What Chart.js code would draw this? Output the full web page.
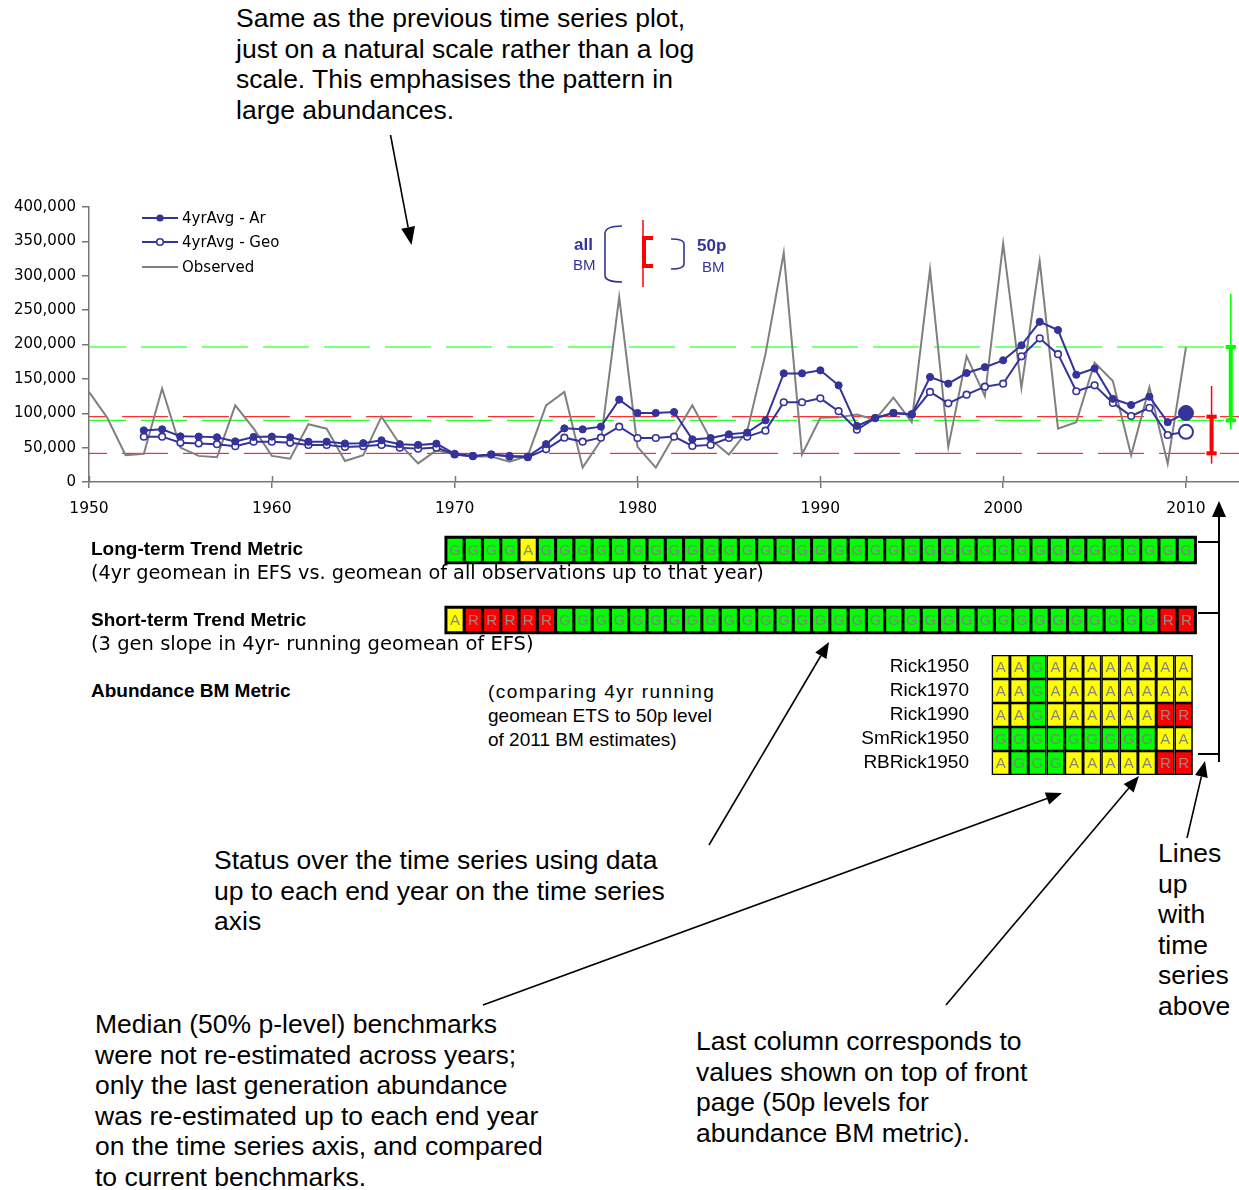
<!DOCTYPE html>
<html>
<head>
<meta charset="utf-8">
<script src="https://cdn.jsdelivr.net/npm/chart.js@4.4.1/dist/chart.umd.min.js"></script>
<style>
  html, body { margin: 0; padding: 0; background: #fff; }
  body { width: 1239px; height: 1190px; position: relative; overflow: hidden;
         font-family: 'Liberation Sans', Arial, sans-serif; color: #000; }
  canvas { position: absolute; }
  .t { position: absolute; white-space: nowrap; }
  .note { font-size: 26.5px; line-height: 30.6px; }
  .leg { font-family: 'DejaVu Sans', Verdana, sans-serif; font-size: 15px; line-height: 18px; }
  .mtitle { font-weight: bold; font-size: 19px; line-height: 24px; }
  .msub { font-family: 'DejaVu Sans', Verdana, sans-serif; font-size: 19.3px; line-height: 24px; }
  .arial19 { font-size: 19px; line-height: 24px; }
  .key { color: #333399; }
  svg { position: absolute; left: 0; top: 0; }
</style>
</head>
<body>

<canvas id="main" width="1239" height="340" style="left:0;top:190px"></canvas>
<canvas id="trend" width="1239" height="140" style="left:0;top:515px"></canvas>
<canvas id="bm" width="399" height="144" style="left:840px;top:643px"></canvas>

<div class="t note" style="left:236px;top:3px">Same as the previous time series plot,<br>just on a natural scale rather than a log<br>scale. This emphasises the pattern in<br>large abundances.</div>

<div class="t leg" style="left:182px;top:209px">4yrAvg - Ar</div>
<div class="t leg" style="left:182px;top:233px">4yrAvg - Geo</div>
<div class="t leg" style="left:182px;top:258px">Observed</div>

<div class="t key" style="left:574px;top:235px;font-weight:bold;font-size:17px;line-height:20px">all</div>
<div class="t key" style="left:573px;top:255px;font-size:15px;line-height:20px">BM</div>
<div class="t key" style="left:697px;top:236px;font-weight:bold;font-size:17px;line-height:20px">50p</div>
<div class="t key" style="left:702px;top:257px;font-size:15px;line-height:20px">BM</div>

<div class="t mtitle" style="left:91px;top:537px">Long-term Trend Metric</div>
<div class="t msub" style="left:91px;top:561px">(4yr geomean in EFS vs. geomean of all observations up to that year)</div>
<div class="t mtitle" style="left:91px;top:608px">Short-term Trend Metric</div>
<div class="t msub" style="left:91px;top:632px;font-size:19.5px">(3 gen slope in 4yr- running geomean of EFS)</div>
<div class="t mtitle" style="left:91px;top:679px">Abundance BM Metric</div>
<div class="t arial19" style="left:488px;top:680px"><span style="letter-spacing:1.45px">(comparing 4yr running</span><br>geomean ETS to 50p level<br>of 2011 BM estimates)</div>

<div class="t note" style="left:214px;top:845px">Status over the time series using data<br>up to each end year on the time series<br>axis</div>
<div class="t note" style="left:95px;top:1009px">Median (50% p-level) benchmarks<br>were not re-estimated across years;<br>only the last generation abundance<br>was re-estimated up to each end year<br>on the time series axis, and compared<br>to current benchmarks.</div>
<div class="t note" style="left:696px;top:1026px">Last column corresponds to<br>values shown on top of front<br>page (50p levels for<br>abundance BM metric).</div>
<div class="t note" style="left:1158px;top:838px">Lines<br>up<br>with<br>time<br>series<br>above</div>

<svg id="ov" width="1239" height="1190"></svg>

<script>
// ---- Time series ----
const obsYears = [1950,1951,1952,1953,1954,1955,1956,1957,1958,1959,
                  1960,1961,1962,1963,1964,1965,1966,1967,1968,1969,
                  1970,1971,1972,1973,1974,1975,1976,1977,1978,1979,
                  1980,1981,1982,1983,1984,1985,1986,1987,1988,1989,
                  1990,1991,1992,1993,1994,1995,1996,1997,1998,1999,
                  2000,2001,2002,2003,2004,2005,2006,2007,2008,2009,
                  2010];
const observed = [131000,93500,39000,41000,136000,50000,38000,36000,111500,78000,
                  38000,34000,84000,77500,30500,39000,95000,55000,27000,46000,
                  40000,37000,37000,29600,38000,111500,131000,21000,60600,269000,
                  51000,21000,67000,111500,62000,40000,74000,186000,333500,40000,
                  93500,94000,98000,90700,122700,87000,309000,51000,183000,125000,
                  346700,137000,321000,77600,87000,173600,147000,39000,138000,26700,
                  196000];

const avgYears = [1953,1954,1955,1956,1957,1958,1959,
                  1960,1961,1962,1963,1964,1965,1966,1967,1968,1969,
                  1970,1971,1972,1973,1974,1975,1976,1977,1978,1979,
                  1980,1981,1982,1983,1984,1985,1986,1987,1988,1989,
                  1990,1991,1992,1993,1994,1995,1996,1997,1998,1999,
                  2000,2001,2002,2003,2004,2005,2006,2007,2008,2009,
                  2010];
const avgAr = [75000,76600,66400,66000,65000,59000,65500,
               66000,65000,58600,58600,56000,56500,60600,55000,54000,55800,
               41000,38000,40000,38000,37000,55000,78000,76600,80500,119800,
               100400,100400,101800,62000,64000,69300,71800,89700,158000,158000,
               162400,140600,81500,93000,100400,98400,152700,143000,158500,167000,
               177000,198800,233000,221000,156000,165000,121000,112000,124000,87000,
               100400];
const avgGeo = [66000,66000,57000,56000,55000,52000,58600,
                58600,57000,54000,54000,51000,52000,54000,50000,48500,50000,
                40000,37600,40000,37000,36000,47500,64500,58600,64500,80500,
                64000,64000,66000,52400,54000,64000,66000,74700,116000,116000,
                121700,103000,76000,93000,100400,98400,131000,114400,127000,138700,
                143000,182800,209000,186000,132000,140600,115000,96000,108000,68400,
                73000];

// ---- Benchmarks (lower / upper) ----
const allBM = [41700, 95000];       // red
const allBMRange = [26700, 139600];
const p50BM = [89700, 196400];      // green
const p50BMRange = [76600, 274000];
const allBMYear = 2011.4;
const p50BMYear = 2012.45;

// ---- Axis ticks ----
const xTickYears = [1950, 1960, 1970, 1980, 1990, 2000, 2010];
const yTickStep = 50000;
const yMax = 400000;

// ---- Status metrics, one letter per end year ----
const trendYears = [1970,1971,1972,1973,1974,1975,1976,1977,1978,1979,
                    1980,1981,1982,1983,1984,1985,1986,1987,1988,1989,
                    1990,1991,1992,1993,1994,1995,1996,1997,1998,1999,
                    2000,2001,2002,2003,2004,2005,2006,2007,2008,2009,
                    2010];
const longTermStatus  = 'GGGGAGGGGG GGGGGGGGGG GGGGGGGGGG GGGGGGGGGG G'.replace(/ /g, '').split('');
const shortTermStatus = 'ARRRRRGGGG GGGGGGGGGG GGGGGGGGGG GGGGGGGGGR R'.replace(/ /g, '').split('');

const bmYears = [2000,2001,2002,2003,2004,2005,2006,2007,2008,2009,2010];
const bmModels = ['Rick1950', 'Rick1970', 'Rick1990', 'SmRick1950', 'RBRick1950'];
const bmStatus = {
  Rick1950:   'AAGAAAAAAAA'.split(''),
  Rick1970:   'AAGAAAAAAAA'.split(''),
  Rick1990:   'AAGAAAAAARR'.split(''),
  SmRick1950: 'GGGGGGGGGAA'.split(''),
  RBRick1950: 'AGGGAAAAARR'.split('')
};

// ---- Styling ----
const NAVY = '#333399';
const GREY = '#808080';
const AXIS = '#777777';
const RED = '#ff0000';
const GREEN = '#00ff00';
const STATUS_COLOR = { G: '#00ff00', A: '#ffff00', R: '#ff0000' };

const XMIN = 1950, XMAX = 2012.9;
const AREA_LEFT = 89, PAGE_RIGHT = 1239;
const PX_PER_YEAR = (PAGE_RIGHT - AREA_LEFT) / (XMAX - XMIN);

const pts = (xs, ys) => xs.map((x, i) => ({ x, y: ys[i] }));
const hLine = (y, x0, x1) => [{ x: x0, y }, { x: x1, y }];
const vLine = (x, y0, y1) => [{ x, y: y0 }, { x, y: y1 }];

function seg(data, color, width, order, dash) {
  return { data, borderColor: color, borderWidth: width, pointRadius: 0,
           borderDash: dash || [], order, fill: false, tension: 0, borderCapStyle: 'butt' };
}

const CAP = 0.28;
function errorBar(x, box, range, color, order) {
  return [
    seg(vLine(x, range[0], range[1]), color, 1.5, order),
    seg(vLine(x, box[0], box[1]), color, 4, order),
    seg(hLine(box[0], x - CAP, x + CAP), color, 4, order),
    seg(hLine(box[1], x - CAP, x + CAP), color, 4, order)
  ];
}

// small tick parts above the x axis line
const innerTicks = {
  id: 'innerTicks',
  afterDraw(chart) {
    const xs = chart.scales.x, ctx = chart.ctx, b = chart.chartArea.bottom;
    ctx.save();
    ctx.strokeStyle = AXIS; ctx.lineWidth = 1.5;
    xs.ticks.forEach(t => {
      const p = Math.round(xs.getPixelForValue(t.value)) + 0.5;
      ctx.beginPath(); ctx.moveTo(p, b - 6); ctx.lineTo(p, b); ctx.stroke();
    });
    ctx.restore();
  }
};

new Chart(document.getElementById('main'), {
  type: 'line',
  data: {
    datasets: [
      { label: '4yrAvg - Ar', data: pts(avgYears, avgAr), borderColor: NAVY, borderWidth: 2,
        pointRadius: avgYears.map(y => y === 2010 ? 7.5 : 3.6),
        pointBackgroundColor: NAVY, pointBorderColor: NAVY, pointBorderWidth: 1, order: 2, tension: 0 },
      { label: '4yrAvg - Geo', data: pts(avgYears, avgGeo), borderColor: NAVY, borderWidth: 2,
        pointRadius: avgYears.map(y => y === 2010 ? 7 : 3.3),
        pointBackgroundColor: '#ffffff', pointBorderColor: NAVY,
        pointBorderWidth: avgYears.map(y => y === 2010 ? 2 : 1.6), order: 3, tension: 0 },
      seg(pts(obsYears, observed), GREY, 2, 4),
      Object.assign(seg(hLine(allBM[0], XMIN, XMAX), RED, 1, 6, [46, 15]), { borderDashOffset: 28 }),
      Object.assign(seg(hLine(allBM[1], XMIN, XMAX), RED, 1, 6, [46, 15]), { borderDashOffset: 28 }),
      Object.assign(seg(hLine(p50BM[0], XMIN, XMAX), GREEN, 1, 5, [46, 15]), { borderDashOffset: 9 }),
      Object.assign(seg(hLine(p50BM[1], XMIN, XMAX), GREEN, 1, 5, [46, 15]), { borderDashOffset: 9 }),
      ...errorBar(allBMYear, allBM, allBMRange, RED, 1),
      ...errorBar(p50BMYear, p50BM, p50BMRange, GREEN, 1)
    ]
  },
  options: {
    responsive: false, animation: false, devicePixelRatio: 1,
    layout: { autoPadding: false, padding: { top: 17, right: 0, left: 0, bottom: 0 } },
    plugins: { legend: { display: false }, tooltip: { enabled: false } },
    scales: {
      x: {
        type: 'linear', min: XMIN, max: XMAX,
        afterBuildTicks: s => { s.ticks = xTickYears.map(v => ({ value: v })); },
        afterFit: s => { s.height = 48; },
        grid: { drawOnChartArea: false, tickLength: 6, color: AXIS, lineWidth: 1.5 },
        border: { color: AXIS, width: 1.5 },
        ticks: { font: { family: 'DejaVu Sans', size: 15.5 }, color: '#000', padding: 12,
                 maxRotation: 0, autoSkip: false, callback: v => String(v) }
      },
      y: {
        min: 0, max: yMax,
        afterFit: s => { s.width = AREA_LEFT; },
        grid: { drawOnChartArea: false, tickLength: 7, color: AXIS, lineWidth: 1.5 },
        border: { color: AXIS, width: 1.5 },
        ticks: { stepSize: yTickStep, font: { family: 'DejaVu Sans', size: 15 }, color: '#000',
                 padding: 6, callback: v => v.toLocaleString('en-US') }
      }
    }
  },
  plugins: [innerTicks]
});

// ---- Status grids ----
const statusLetters = {
  id: 'statusLetters',
  afterDatasetsDraw(chart) {
    const ctx = chart.ctx;
    ctx.save();
    ctx.font = '15px "Liberation Sans", Arial, sans-serif';
    ctx.textAlign = 'center'; ctx.textBaseline = 'middle';
    chart.data.datasets.forEach((ds, di) => {
      if (!ds.letters) return;
      chart.getDatasetMeta(di).data.forEach((el, i) => {
        const l = ds.letters[i];
        ctx.fillStyle = l === 'R' ? 'rgba(150,150,150,0.9)' : 'rgba(128,128,128,0.95)';
        ctx.fillText(l, (el.x + el.base) / 2, el.y + 1);
      });
    });
    ctx.restore();
  }
};

const TREND_CELL = [-0.46, 0.5];
function cellRow(years, row, cell) {
  return years.map(yr => ({ x: [yr + cell[0], yr + cell[1]], y: row }));
}

const trendRows = [['Long-term', longTermStatus], ['Short-term', shortTermStatus]];
const trendCells = trendRows.flatMap(([row]) => cellRow(trendYears, row, TREND_CELL));
const trendLetters = trendRows.flatMap(([, st]) => st);
const first = trendYears[0], last = trendYears[trendYears.length - 1];

new Chart(document.getElementById('trend'), {
  type: 'bar',
  data: {
    labels: trendRows.map(r => r[0]),
    datasets: [
      { data: trendCells, letters: trendLetters,
        backgroundColor: trendLetters.map(l => STATUS_COLOR[l]),
        borderColor: '#000', borderWidth: 1.5, borderSkipped: false,
        barThickness: 25, grouped: false, order: 0 },
      { data: trendRows.map(r => ({ x: [first + TREND_CELL[0] - 0.08, last + TREND_CELL[1] + 0.08], y: r[0] })),
        backgroundColor: '#000', borderWidth: 0, barThickness: 28, grouped: false, order: 1 }
    ]
  },
  options: {
    indexAxis: 'y', responsive: false, animation: false, devicePixelRatio: 1,
    layout: { autoPadding: false, padding: { left: AREA_LEFT, right: 0, top: 0, bottom: 0 } },
    plugins: { legend: { display: false }, tooltip: { enabled: false } },
    scales: {
      x: { type: 'linear', min: XMIN, max: XMAX, display: false },
      y: { type: 'category', display: false }
    }
  },
  plugins: [statusLetters]
});

// Abundance BM grid: its plot area starts at page x 991 and keeps the same years-to-pixels scale
const BM_LEFT = 840, BM_AREA_LEFT = 991;
const BM_XMIN = XMIN + (BM_AREA_LEFT - AREA_LEFT) / PX_PER_YEAR;
const BM_CELL = [-0.62, 0.36];
const bmCells = bmModels.flatMap(m => cellRow(bmYears, m, BM_CELL));
const bmLetters = bmModels.flatMap(m => bmStatus[m]);

new Chart(document.getElementById('bm'), {
  type: 'bar',
  data: {
    labels: bmModels,
    datasets: [
      { data: bmCells, letters: bmLetters,
        backgroundColor: bmLetters.map(l => STATUS_COLOR[l]),
        borderColor: '#000', borderWidth: 1.6, borderSkipped: false,
        categoryPercentage: 1, barPercentage: 1, grouped: false }
    ]
  },
  options: {
    indexAxis: 'y', responsive: false, animation: false, devicePixelRatio: 1,
    layout: { autoPadding: false, padding: { top: 12, bottom: 12, left: 0, right: 0 } },
    plugins: { legend: { display: false }, tooltip: { enabled: false } },
    scales: {
      x: { type: 'linear', min: BM_XMIN, max: XMAX, display: false },
      y: { type: 'category', afterFit: s => { s.width = BM_AREA_LEFT - BM_LEFT; },
           grid: { display: true, drawOnChartArea: false, drawTicks: true, tickLength: 22, color: 'rgba(0,0,0,0)' },
           border: { display: false },
           ticks: { padding: 0, autoSkip: false, color: '#000',
                    font: { family: '"Liberation Sans", Arial', size: 19 } } }
    }
  },
  plugins: [statusLetters]
});

// ---- Legend samples, key brackets, arrows and the alignment bracket ----
const svg = document.getElementById('ov');
const NS = 'http://www.w3.org/2000/svg';
function el(tag, attrs) {
  const e = document.createElementNS(NS, tag);
  for (const k in attrs) e.setAttribute(k, attrs[k]);
  svg.appendChild(e);
  return e;
}
function arrow(x1, y1, x2, y2, len = 16, hw = 6.5) {
  const a = Math.atan2(y2 - y1, x2 - x1);
  const bx = x2 - len * Math.cos(a), by = y2 - len * Math.sin(a);
  el('line', { x1, y1, x2: bx, y2: by, stroke: '#000', 'stroke-width': 1.6 });
  const px = -Math.sin(a) * hw, py = Math.cos(a) * hw;
  el('polygon', { points: `${x2},${y2} ${bx + px},${by + py} ${bx - px},${by - py}`, fill: '#000' });
}

// legend
el('line', { x1: 142, y1: 218, x2: 178, y2: 218, stroke: NAVY, 'stroke-width': 2 });
el('circle', { cx: 160, cy: 218, r: 3.6, fill: NAVY });
el('line', { x1: 142, y1: 242, x2: 178, y2: 242, stroke: NAVY, 'stroke-width': 2 });
el('circle', { cx: 160, cy: 242, r: 3.3, fill: '#fff', stroke: NAVY, 'stroke-width': 1.6 });
el('line', { x1: 142, y1: 267, x2: 178, y2: 267, stroke: GREY, 'stroke-width': 2 });

// benchmark key
el('path', { d: 'M622,226 Q606,226 605,233 L605,276 Q606,282 622,282', fill: 'none', stroke: NAVY, 'stroke-width': 1.6 });
el('path', { d: 'M671,239 Q684,239 684,244 L684,264 Q684,269 671,269', fill: 'none', stroke: NAVY, 'stroke-width': 1.6 });
el('line', { x1: 643, y1: 220, x2: 643, y2: 287, stroke: RED, 'stroke-width': 1.5 });
el('path', { d: 'M653,238 L644,238 L644,266 L653,266', fill: 'none', stroke: RED, 'stroke-width': 4 });

// annotation arrows
arrow(390.5, 135, 411.5, 245, 18, 7);
arrow(709, 845, 829, 642);
arrow(483, 1005, 1062, 793);
arrow(946, 1005, 1139, 776);
arrow(1187, 838, 1205, 761);

// alignment bracket on the right
el('line', { x1: 1219, y1: 762, x2: 1219, y2: 514, stroke: '#000', 'stroke-width': 2 });
el('polygon', { points: '1219,501 1212,517 1226,517', fill: '#000' });
[542, 613, 754].forEach(y => el('line', { x1: 1198, y1: y, x2: 1219, y2: y, stroke: '#000', 'stroke-width': 2 }));
</script>
</body>
</html>
